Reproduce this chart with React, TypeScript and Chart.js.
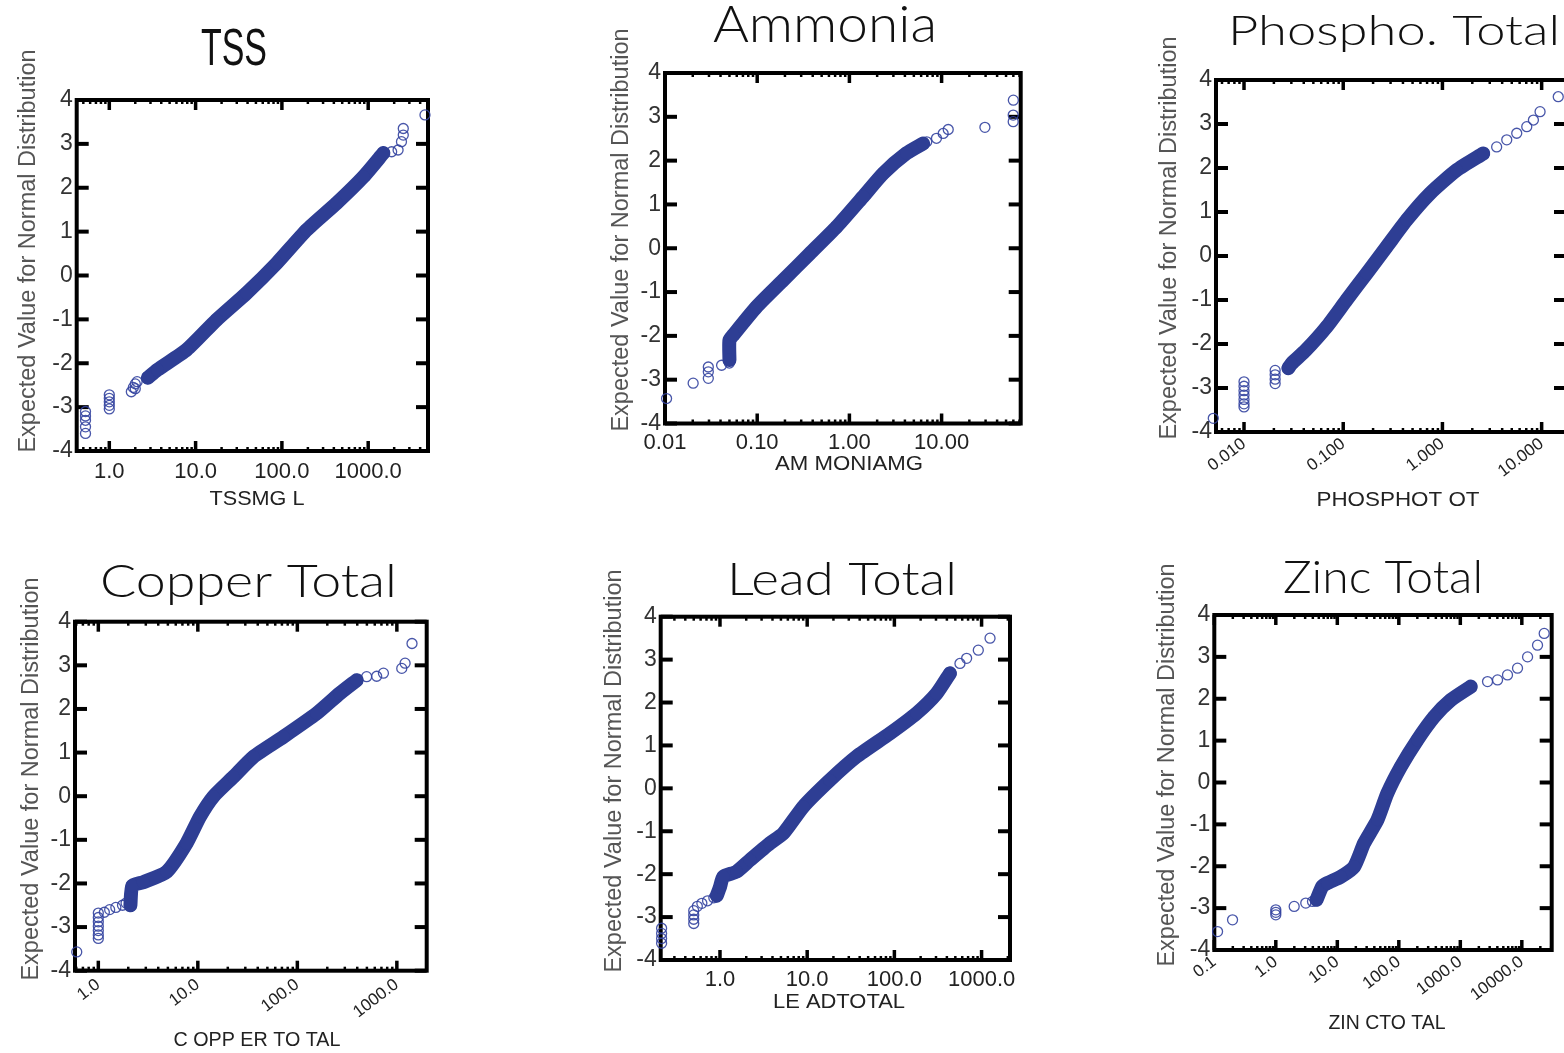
import React, { useEffect, useRef } from "react";
import { Chart, registerables } from "chart.js";

Chart.register(...registerables);

// ---------- shared axis values ----------
const yTickValues = [-4, -3, -2, -1, 0, 1, 2, 3, 4];
const yTickLabels = ["-4", "-3", "-2", "-1", "0", "1", "2", "3", "4"];
const yAxisTitle = "Expected Value for Normal Distribution";

// ---------- TSS ----------
const tssTitle = "TSS";
const tssXTitle = "TSSMG L";
const tssTickValues = [1, 10, 100, 1000];
const tssTickLabels = ["1.0", "10.0", "100.0", "1000.0"];
const tssBandX = [2.8, 3.6, 7.9, 17.5, 39, 87, 194, 431, 880, 1500];
const tssBandZ = [-2.33, -2.15, -1.69, -1.01, -0.4, 0.28, 1.04, 1.65, 2.25, 2.79];
const tssTailX = [0.53, 0.53, 0.53, 0.53, 0.53, 1.0, 1.0, 1.0, 1.0, 1.0, 1.8, 1.9, 2.0, 2.0, 2.1, 1870, 2220, 2430, 2550, 2550, 4550];
const tssTailZ = [-3.1, -3.2, -3.3, -3.45, -3.6, -2.72, -2.8, -2.88, -2.96, -3.04, -2.65, -2.55, -2.47, -2.58, -2.42, 2.82, 2.86, 3.05, 3.2, 3.35, 3.66];

// ---------- Ammonia ----------
const ammTitle = "Ammonia";
const ammXTitle = "AM MONIAMG";
const ammTickValues = [0.01, 0.1, 1, 10];
const ammTickLabels = ["0.01", "0.10", "1.00", "10.00"];
const ammBandX = [0.05, 0.05, 0.055, 0.098, 0.191, 0.373, 0.727, 1.41, 2.33, 4.17, 6.3];
const ammBandZ = [-2.55, -2.1, -1.98, -1.34, -0.73, -0.12, 0.49, 1.18, 1.71, 2.17, 2.39];
const ammTailX = [0.0104, 0.0202, 0.0295, 0.0295, 0.0295, 0.0411, 0.0499, 6.9, 8.8, 10.4, 11.8, 29.5, 59.8, 59.8, 60];
const ammTailZ = [-3.43, -3.08, -2.97, -2.82, -2.71, -2.67, -2.62, 2.43, 2.51, 2.62, 2.71, 2.76, 2.89, 3.04, 3.38];

// ---------- Phospho. Total ----------
const phoTitle = "Phospho. Total";
const phoXTitle = "PHOSPHOT OT";
const phoTickValues = [0.01, 0.1, 1, 10];
const phoTickLabels = ["0.010", "0.100", "1.000", "10.000"];
const phoBandX = [0.028, 0.03, 0.042, 0.068, 0.108, 0.173, 0.274, 0.437, 0.75, 1.39, 2.58];
const phoBandZ = [-2.55, -2.45, -2.14, -1.61, -1.0, -0.39, 0.21, 0.82, 1.42, 1.95, 2.33];
const phoTailX = [0.0049, 0.01, 0.01, 0.01, 0.01, 0.01, 0.01, 0.01, 0.0206, 0.0206, 0.0206, 0.0206, 3.52, 4.45, 5.61, 7.08, 8.26, 9.64, 14.7];
const phoTailZ = [-3.69, -2.86, -2.96, -3.06, -3.16, -3.26, -3.36, -3.43, -2.6, -2.7, -2.8, -2.9, 2.48, 2.64, 2.79, 2.94, 3.09, 3.28, 3.62];

// ---------- Copper Total ----------
const cuTitle = "Copper Total";
const cuXTitle = "C OPP ER TO TAL";
const cuTickValues = [1, 10, 100, 1000];
const cuTickLabels = ["1.0", "10.0", "100.0", "1000.0"];
const cuBandX = [2.1, 2.2, 2.83, 4.87, 7.7, 10.5, 14.3, 22.7, 36.1, 72.3, 157, 268, 395];
const cuBandZ = [-2.5, -2.05, -1.97, -1.73, -1.08, -0.47, -0.01, 0.44, 0.9, 1.36, 1.9, 2.36, 2.66];
const cuTailX = [0.607, 1.0, 1.0, 1.0, 1.0, 1.0, 1.0, 1.0, 1.15, 1.3, 1.5, 1.75, 1.9, 497, 627, 733, 1120, 1210, 1420];
const cuTailZ = [-3.57, -2.68, -2.78, -2.88, -2.98, -3.08, -3.18, -3.26, -2.66, -2.6, -2.55, -2.5, -2.45, 2.74, 2.75, 2.82, 2.93, 3.05, 3.5];

// ---------- Lead Total ----------
const pbTitle = "Lead Total";
const pbXTitle = "LE ADTOTAL";
const pbTickValues = [1, 10, 100, 1000];
const pbTickLabels = ["1.0", "10.0", "100.0", "1000.0"];
const pbBandX = [0.92, 1.0, 1.09, 1.55, 2.21, 3.74, 5.32, 9.0, 18.2, 36.9, 89, 180, 305, 434];
const pbBandZ = [-2.5, -2.3, -2.06, -1.94, -1.67, -1.28, -1.05, -0.43, 0.19, 0.74, 1.28, 1.75, 2.21, 2.68];
const pbTailX = [0.214, 0.214, 0.214, 0.214, 0.5, 0.5, 0.5, 0.5, 0.55, 0.62, 0.72, 0.85, 565, 674, 917, 1250];
const pbTailZ = [-3.26, -3.38, -3.5, -3.61, -2.85, -2.95, -3.05, -3.15, -2.75, -2.68, -2.62, -2.55, 2.91, 3.03, 3.22, 3.5];

// ---------- Zinc Total ----------
const znTitle = "Zinc Total";
const znXTitle = "ZIN CTO TAL";
const znTickValues = [0.1, 1, 10, 100, 1000, 10000];
const znTickLabels = ["0.1", "1.0", "10.0", "100.0", "1000.0", "10000.0"];
const znBandX = [4.6, 5.7, 6.9, 11.4, 18.8, 27.3, 45, 65, 108, 201, 376, 701, 1480];
const znBandZ = [-2.8, -2.48, -2.4, -2.25, -2.01, -1.45, -0.89, -0.26, 0.38, 1.02, 1.57, 1.97, 2.29];
const znTailX = [0.113, 0.198, 1.0, 1.0, 1.0, 1.99, 3.07, 3.95, 2770, 4030, 5850, 8510, 12400, 18000, 23100];
const znTailZ = [-3.56, -3.28, -3.04, -3.1, -3.16, -2.96, -2.88, -2.84, 2.41, 2.45, 2.57, 2.73, 3.0, 3.28, 3.56];

// ---------- layout / style (not data) ----------
type Panel = {
  key: string;
  title: string; titleFont: string; titleWeight: number; titleCx: number; titleBase: number; titleCap: number; titleW: number;
  xTitle: string; xTitleCx: number; xTitleCy: number; xTitleW: number;
  yTitleCx: number; yTitleCy: number;
  canvas: [number, number, number, number];
  plot: [number, number, number, number];
  xMin: number; xMax: number;
  tickValues: number[]; tickLabels: string[];
  rotation: number; tickPad: number; tickSize: number;
  bandX: number[]; bandZ: number[]; tailX: number[]; tailZ: number[];
};

const GOTHIC = "Lato, 'Noto Sans', sans-serif";
const SANS = "'Liberation Sans', Arial, sans-serif";

const panels: Panel[] = [
  {
    key: "tss", title: tssTitle, titleFont: SANS, titleWeight: 400, titleCx: 234, titleBase: 65, titleCap: 37, titleW: 66,
    xTitle: tssXTitle, xTitleCx: 257, xTitleCy: 497, xTitleW: 95, yTitleCx: 29, yTitleCy: 251,
    canvas: [0, 0, 450, 530], plot: [76.7, 100, 428, 451], xMin: 0.419, xMax: 4932,
    tickValues: tssTickValues, tickLabels: tssTickLabels, rotation: 0, tickPad: 8, tickSize: 22,
    bandX: tssBandX, bandZ: tssBandZ, tailX: tssTailX, tailZ: tssTailZ,
  },
  {
    key: "amm", title: ammTitle, titleFont: GOTHIC, titleWeight: 300, titleCx: 825, titleBase: 42, titleCap: 36, titleW: 224,
    xTitle: ammXTitle, xTitleCx: 849, xTitleCy: 462, xTitleW: 148, yTitleCx: 621.7, yTitleCy: 230,
    canvas: [590, 0, 1040, 530], plot: [665, 73, 1020.7, 423.5], xMin: 0.01, xMax: 72.1,
    tickValues: ammTickValues, tickLabels: ammTickLabels, rotation: 0, tickPad: 6, tickSize: 22,
    bandX: ammBandX, bandZ: ammBandZ, tailX: ammTailX, tailZ: ammTailZ,
  },
  {
    key: "pho", title: phoTitle, titleFont: GOTHIC, titleWeight: 300, titleCx: 1394, titleBase: 45, titleCap: 30, titleW: 332,
    xTitle: phoXTitle, xTitleCx: 1398, xTitleCy: 498, xTitleW: 163, yTitleCx: 1170, yTitleCy: 238,
    canvas: [1140, 0, 1580, 530], plot: [1216, 80, 1566, 432], xMin: 0.00522, xMax: 17.6,
    tickValues: phoTickValues, tickLabels: phoTickLabels, rotation: 37, tickPad: 2, tickSize: 17,
    bandX: phoBandX, bandZ: phoBandZ, tailX: phoTailX, tailZ: phoTailZ,
  },
  {
    key: "cu", title: cuTitle, titleFont: GOTHIC, titleWeight: 300, titleCx: 248.5, titleBase: 596.7, titleCap: 33, titleW: 297,
    xTitle: cuXTitle, xTitleCx: 257, xTitleCy: 1038, xTitleW: 167, yTitleCx: 31.7, yTitleCy: 779,
    canvas: [0, 540, 450, 1053], plot: [75, 621.7, 426.7, 970.7], xMin: 0.583, xMax: 1995,
    tickValues: cuTickValues, tickLabels: cuTickLabels, rotation: 37, tickPad: 4, tickSize: 17,
    bandX: cuBandX, bandZ: cuBandZ, tailX: cuTailX, tailZ: cuTailZ,
  },
  {
    key: "pb", title: pbTitle, titleFont: GOTHIC, titleWeight: 300, titleCx: 842, titleBase: 595, titleCap: 33, titleW: 230,
    xTitle: pbXTitle, xTitleCx: 839, xTitleCy: 1000, xTitleW: 132, yTitleCx: 615, yTitleCy: 771,
    canvas: [590, 540, 1040, 1053], plot: [660.7, 616.7, 1010, 960], xMin: 0.209, xMax: 2118,
    tickValues: pbTickValues, tickLabels: pbTickLabels, rotation: 0, tickPad: 7, tickSize: 22,
    bandX: pbBandX, bandZ: pbBandZ, tailX: pbTailX, tailZ: pbTailZ,
  },
  {
    key: "zn", title: znTitle, titleFont: GOTHIC, titleWeight: 300, titleCx: 1383, titleBase: 593.3, titleCap: 32, titleW: 200,
    xTitle: znXTitle, xTitleCx: 1387, xTitleCy: 1021.7, xTitleW: 117, yTitleCx: 1168, yTitleCy: 765,
    canvas: [1140, 540, 1580, 1053], plot: [1214.3, 615, 1551.7, 950], xMin: 0.1, xMax: 30600,
    tickValues: znTickValues, tickLabels: znTickLabels, rotation: 37, tickPad: 2, tickSize: 17,
    bandX: znBandX, bandZ: znBandZ, tailX: znTailX, tailZ: znTailZ,
  },
];

const BAND_COLOR = "#2e3e94";
const POINT_COLOR = "rgba(52,68,160,0.9)";

function fitText(ctx: CanvasRenderingContext2D, text: string, family: string, weight: number, cap: number,
  cx: number, baseline: number, width: number, color: string) {
  const size = cap / 0.716;
  ctx.save();
  ctx.font = `${weight} ${size}px ${family}`;
  const w = ctx.measureText(text).width || 1;
  ctx.translate(cx, baseline);
  ctx.scale(width / w, 1);
  ctx.textAlign = "center";
  ctx.textBaseline = "alphabetic";
  ctx.fillStyle = color;
  ctx.fillText(text, 0, 0);
  ctx.restore();
}

function makeDecor(p: Panel) {
  const ox = p.canvas[0];
  const oy = p.canvas[1];
  return {
    id: "decor_" + p.key,
    beforeDatasetsDraw(chart: any) {
      const { ctx, chartArea: a, scales } = chart;
      const xs = scales.x;
      const ys = scales.y;
      ctx.save();
      ctx.strokeStyle = "#000";
      ctx.lineCap = "butt";
      const seg = (x1: number, y1: number, x2: number, y2: number) => {
        ctx.beginPath(); ctx.moveTo(x1, y1); ctx.lineTo(x2, y2); ctx.stroke();
      };
      const lo = Math.floor(Math.log10(p.xMin));
      const hi = Math.ceil(Math.log10(p.xMax));
      for (let d = lo; d <= hi; d++) {
        for (let m = 1; m <= 9; m++) {
          const v = m * Math.pow(10, d);
          if (v < p.xMin * 0.999 || v > p.xMax) continue;
          const px = xs.getPixelForValue(v);
          const major = m === 1;
          ctx.lineWidth = major ? 3.5 : 2.5;
          const len = major ? 10 : 4;
          seg(px, a.bottom, px, a.bottom - len);
          seg(px, a.top, px, a.top + len);
        }
      }
      ctx.lineWidth = 4;
      for (const v of yTickValues) {
        const py = ys.getPixelForValue(v);
        seg(a.left, py, a.left + 12, py);
        seg(a.right - 12, py, a.right, py);
      }
      ctx.lineWidth = 4;
      ctx.strokeRect(a.left, a.top, a.right - a.left, a.bottom - a.top);
      ctx.restore();
    },
    afterDraw(chart: any) {
      const ctx: CanvasRenderingContext2D = chart.ctx;
      fitText(ctx, p.title, p.titleFont, p.titleWeight, p.titleCap, p.titleCx - ox, p.titleBase - oy, p.titleW, "#111");
      // x-axis title
      fitText(ctx, p.xTitle, SANS, 400, 15, p.xTitleCx - ox, p.xTitleCy - oy + 7.5, p.xTitleW, "#222");
      // y-axis title
      ctx.save();
      ctx.translate(p.yTitleCx - ox, p.yTitleCy - oy);
      ctx.rotate(-Math.PI / 2);
      ctx.font = `23.5px ${SANS}`;
      ctx.fillStyle = "#555";
      ctx.textAlign = "center";
      ctx.textBaseline = "middle";
      ctx.fillText(yAxisTitle, 0, 0);
      ctx.restore();
    },
  };
}

function PanelChart({ p }: { p: Panel }) {
  const ref = useRef<HTMLCanvasElement>(null);
  const [cl, ct, cr, cb] = p.canvas;
  const [L, T, R, B] = p.plot;
  const w = cr - cl;
  const h = cb - ct;
  useEffect(() => {
    if (!ref.current) return;
    const padTop = T - ct;
    const yAxisW = L - cl;
    const padRight = cr - R;
    const xAxisH = cb - B;
    const band = p.bandX.map((x, i) => ({ x, y: p.bandZ[i] }));
    const tail = p.tailX.map((x, i) => ({ x, y: p.tailZ[i] }));
    const chart = new Chart(ref.current, {
      type: "scatter",
      data: {
        datasets: [
          {
            label: "band",
            data: band,
            showLine: true,
            borderColor: BAND_COLOR,
            backgroundColor: BAND_COLOR,
            borderWidth: 14,
            borderCapStyle: "round",
            borderJoinStyle: "round",
            tension: 0.2,
            pointRadius: 6.5,
            pointBorderWidth: 0,
            pointBackgroundColor: BAND_COLOR,
            clip: false,
          } as any,
          {
            label: "tail",
            data: tail,
            showLine: false,
            pointStyle: "circle",
            pointRadius: 5,
            pointBorderWidth: 1.3,
            pointBorderColor: POINT_COLOR,
            pointBackgroundColor: "rgba(255,255,255,0)",
            clip: false,
          } as any,
        ],
      },
      options: {
        responsive: false,
        maintainAspectRatio: false,
        animation: false,
        devicePixelRatio: 1,
        events: [],
        layout: { padding: { top: padTop, left: 0, right: padRight, bottom: 0 } },
        plugins: { legend: { display: false }, tooltip: { enabled: false }, title: { display: false } },
        scales: {
          x: {
            type: "logarithmic",
            position: "bottom",
            min: p.xMin,
            max: p.xMax,
            grid: { display: false, drawTicks: false },
            border: { display: false },
            afterBuildTicks: (s: any) => {
              s.ticks = p.tickValues.map((v) => ({ value: v }));
            },
            afterFit: (s: any) => {
              s.height = xAxisH;
            },
            ticks: {
              autoSkip: false,
              minRotation: p.rotation,
              maxRotation: p.rotation,
              padding: p.tickPad,
              color: "#222",
              font: { family: SANS, size: p.tickSize },
              callback: (_v: any, i: number) => p.tickLabels[i],
            },
          },
          y: {
            type: "linear",
            min: -4,
            max: 4,
            grid: { display: false, drawTicks: false },
            border: { display: false },
            afterBuildTicks: (s: any) => {
              s.ticks = yTickValues.map((v) => ({ value: v }));
            },
            afterFit: (s: any) => {
              s.width = yAxisW;
            },
            ticks: {
              padding: 4,
              color: "#333",
              font: { family: SANS, size: 23 },
              callback: (_v: any, i: number) => yTickLabels[i],
            },
          },
        },
      } as any,
      plugins: [makeDecor(p)],
    });
    return () => chart.destroy();
  }, [p]);
  return (
    <canvas
      ref={ref}
      width={w}
      height={h}
      style={{ position: "absolute", left: cl, top: ct, width: w, height: h }}
    />
  );
}

export default function App() {
  return (
    <div
      style={{
        position: "absolute",
        left: 0,
        top: 0,
        width: 1564,
        height: 1053,
        overflow: "hidden",
        background: "#fff",
      }}
    >
      {panels.map((p) => (
        <PanelChart key={p.key} p={p} />
      ))}
    </div>
  );
}
